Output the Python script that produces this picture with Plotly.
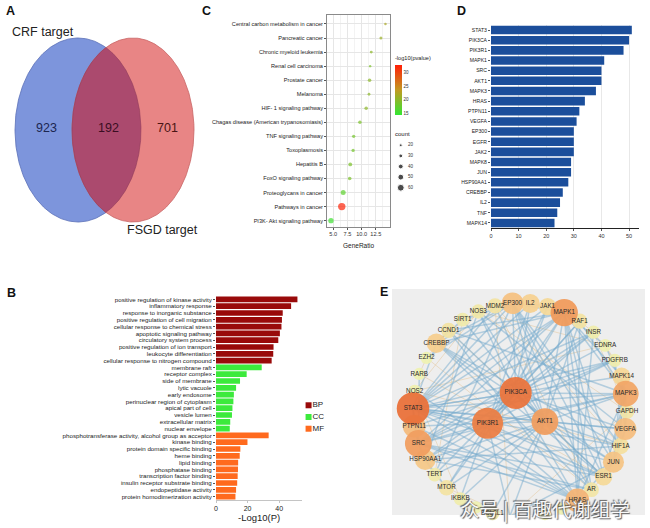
import numpy as np
import plotly.graph_objects as go

W, H = 650, 528
FONT = "Liberation Sans, Arial, sans-serif"

# ---------------- Panel A: Venn ----------------
venn_sets = ["CRF target", "FSGD target"]
venn_only_left = 923
venn_shared = 192
venn_only_right = 701

# ---------------- Panel B: GO enrichment ----------------
bp_terms = ["positive regulation of kinase activity", "inflammatory response",
            "response to inorganic substance", "positive regulation of cell migration",
            "cellular response to chemical stress", "apoptotic signaling pathway",
            "circulatory system process", "positive regulation of ion transport",
            "leukocyte differentiation", "cellular response to nitrogen compound"]
bp_values = [51.5, 47.5, 42.2, 41.7, 41.4, 40.4, 39.4, 36.4, 36.2, 35.2]
cc_terms = ["membrane raft", "receptor complex", "side of membrane", "lytic vacuole",
            "early endosome", "perinuclear region of cytoplasm", "apical part of cell",
            "vesicle lumen", "extracellular matrix", "nuclear envelope"]
cc_values = [28.9, 19.4, 15.2, 12.7, 11.3, 11.0, 10.4, 10.1, 9.0, 8.7]
mf_terms = ["phosphotransferase activity, alcohol group as acceptor", "kinase binding",
            "protein domain specific binding", "heme binding", "lipid binding",
            "phosphatase binding", "transcription factor binding",
            "insulin receptor substrate binding", "endopeptidase activity",
            "protein homodimerization activity"]
mf_values = [33.3, 19.9, 15.4, 15.0, 14.0, 13.9, 13.7, 13.4, 12.7, 12.3]
go_classes = ["BP", "CC", "MF"]

# ---------------- Panel C: KEGG dot plot ----------------
kegg_terms = ["Central carbon metabolism in cancer", "Pancreatic cancer",
              "Chronic myeloid leukemia", "Renal cell carcinoma", "Prostate cancer",
              "Melanoma", "HIF- 1 signaling pathway",
              "Chagas disease (American trypanosomiasis)", "TNF signaling pathway",
              "Toxoplasmosis", "Hepatitis B", "FoxO signaling pathway",
              "Proteoglycans in cancer", "Pathways in cancer", "PI3K- Akt signaling pathway"]
kegg_ratio = [14.2, 13.4, 11.7, 11.5, 11.4, 11.3, 10.8, 9.7, 8.6, 8.5, 8.0, 7.9, 6.75, 6.5, 4.6]
kegg_count = [18, 22, 21, 16, 27, 20, 27, 27, 25, 25, 30, 28, 42, 66, 46]
kegg_logp = [22, 21, 20, 19, 20, 20, 20, 19, 18.5, 18.5, 19, 19, 17, 32.5, 15]
count_breaks = [20, 30, 40, 50, 60]
logp_ticks = [15, 20, 25, 30]

# ---------------- Panel D: hub genes ----------------
hub_genes = ["STAT3", "PIK3CA", "PIK3R1", "MAPK1", "SRC", "AKT1", "MAPK3", "HRAS",
             "PTPN11", "VEGFA", "EP300", "EGFR", "JAK2", "MAPK8", "JUN", "HSP90AA1",
             "CREBBP", "IL2", "TNF", "MAPK14"]
hub_degree = [51, 50, 48, 41, 40, 40, 38, 34, 32, 31, 30, 30, 30, 29, 29, 28, 26, 25, 24, 23]

# ---------------- Panel E: PPI network ----------------
# "" marks ring nodes whose labels are hidden under the watermark in the source figure
ring_nodes = ["EP300", "IL2", "JAK1", "MAPK1", "RAF1", "INSR", "EDNRA", "PDGFRB",
              "MAPK14", "MAPK3", "GAPDH", "VEGFA", "HIF1A", "JUN", "ESR1", "AR", "HRAS",
              "", "", "", "BCL2", "BCL2L1", "", "IKBKB", "MTOR", "TERT",
              "HSP90AA1", "SRC", "PTPN11", "STAT3", "NOS2", "RARB", "EZH2", "CREBBP",
              "CCND1", "SIRT1", "NOS3", "MDM2"]
core_nodes = ["PIK3CA", "AKT1", "PIK3R1"]
other_degree = {"JAK1": 22, "MDM2": 18, "NOS3": 16, "SIRT1": 15, "CCND1": 18, "EZH2": 12,
                "RARB": 12, "NOS2": 13, "TERT": 15, "MTOR": 18, "IKBKB": 14, "BCL2": 16,
                "BCL2L1": 15, "AR": 17, "ESR1": 22, "HIF1A": 20, "GAPDH": 17, "RAF1": 18,
                "INSR": 14, "EDNRA": 13, "PDGFRB": 14, "": 12}
strong_edges = {
    "STAT3": "PIK3CA PIK3R1 AKT1 MAPK1 MAPK3 SRC JAK1 IL2 EP300 CREBBP VEGFA HIF1A JUN HRAS MAPK14 PTPN11 ESR1 MDM2 INSR PDGFRB",
    "PIK3CA": "PIK3R1 AKT1 MAPK1 MAPK3 HRAS SRC PTPN11 VEGFA MTOR INSR PDGFRB JAK1 IL2 EP300 ESR1 HSP90AA1 TERT NOS3 EDNRA RAF1",
    "PIK3R1": "AKT1 SRC HRAS PTPN11 INSR PDGFRB JAK1 MAPK1 MAPK3 IL2 HSP90AA1 MTOR IKBKB ESR1 RAF1 BCL2",
    "AKT1": "MAPK1 MAPK3 MTOR HSP90AA1 MDM2 NOS3 SIRT1 CCND1 TERT IKBKB VEGFA HIF1A JUN BCL2 BCL2L1 AR ESR1 EP300 RAF1",
    "MAPK1": "MAPK3 RAF1 HRAS SRC JUN ESR1 AR MAPK14 EP300 CREBBP PTPN11 EDNRA CCND1",
    "SRC": "PTPN11 HSP90AA1 PDGFRB ESR1 AR INSR MAPK3 HRAS RARB",
    "MAPK3": "RAF1 HRAS JUN MAPK14 ESR1 EDNRA VEGFA CCND1",
    "HRAS": "RAF1 PTPN11 JUN CCND1 INSR NOS2",
    "VEGFA": "HIF1A PDGFRB NOS3 MAPK14 JUN GAPDH",
    "EP300": "CREBBP JUN HIF1A SIRT1 ESR1 AR MDM2 EZH2 TERT",
    "JUN": "MAPK14 CREBBP ESR1 BCL2",
    "HSP90AA1": "TERT NOS3 HIF1A AR MTOR",
    "CREBBP": "HIF1A ESR1 AR CCND1 SIRT1",
    "IL2": "JAK1",
    "MAPK14": "HIF1A",
}
weak_edges = {
    "NOS3": "NOS2 EDNRA SIRT1 GAPDH",
    "MDM2": "SIRT1 BCL2 CCND1 AR",
    "EZH2": "RARB CCND1 AR",
    "BCL2": "BCL2L1 MTOR GAPDH",
    "ESR1": "AR RARB CCND1",
    "TERT": "SIRT1 MTOR",
    "INSR": "PDGFRB GAPDH RAF1",
    "HIF1A": "GAPDH NOS2 MDM2",
    "IKBKB": "NOS2 MTOR",
    "EDNRA": "PDGFRB NOS2",
}
watermark = "众号 | 百趣代谢组学"


# ---------------- helpers ----------------
def fx(p):
    return p / W


def fy(p):
    return 1 - p / H


def note(px, py, text, size, color="#222", xanchor="center", family=FONT, **extra):
    font = dict(size=size, color=color, family=family)
    font.update(extra)
    return dict(x=fx(px), y=fy(py), xref="paper", yref="paper", text=text, showarrow=False,
                xanchor=xanchor, yanchor="middle", font=font)


fig = go.Figure()

# ================= Panel A =================
A_CX, A_CY, A_RX, A_RY = (78.0, 133.0), 130.0, (63.0, 61.0), 92.0
venn_fill = ["#7d95dc", "#e88585"]
venn_line = ["#5b70b8", "#c86464"]
t = np.linspace(0, 2 * np.pi, 361)
for i in range(2):
    fig.add_trace(go.Scatter(x=A_CX[i] + A_RX[i] * np.cos(t), y=A_CY + A_RY * np.sin(t),
                             mode="lines", fill="toself", fillcolor=venn_fill[i],
                             line=dict(color=venn_line[i], width=0.8),
                             xaxis="x", yaxis="y", hoverinfo="skip", showlegend=False))
tl = np.linspace(-np.pi, np.pi, 1441)
xl, yl = A_CX[0] + A_RX[0] * np.cos(tl), A_CY + A_RY * np.sin(tl)
ml = ((xl - A_CX[1]) / A_RX[1]) ** 2 + ((yl - A_CY) / A_RY) ** 2 <= 1
tr = np.linspace(0, 2 * np.pi, 1441)
xr, yr = A_CX[1] + A_RX[1] * np.cos(tr), A_CY + A_RY * np.sin(tr)
mr = ((xr - A_CX[0]) / A_RX[0]) ** 2 + ((yr - A_CY) / A_RY) ** 2 <= 1
fig.add_trace(go.Scatter(x=np.concatenate([xl[ml], xr[mr]]), y=np.concatenate([yl[ml], yr[mr]]),
                         mode="lines", fill="toself", fillcolor="#ab4a6e",
                         line=dict(color="#8e3a5a", width=0.6),
                         xaxis="x", yaxis="y", hoverinfo="skip", showlegend=False))
left_edge = A_CX[0] - A_RX[0]
lens_l = A_CX[1] - A_RX[1]
lens_r = A_CX[0] + A_RX[0]
right_edge = A_CX[1] + A_RX[1]
venn_text_x = [(left_edge + lens_l) / 2 + 3, (lens_l + lens_r) / 2 + 2, (lens_r + right_edge) / 2]
venn_text = [venn_only_left, venn_shared, venn_only_right]
venn_text_col = ["#1c2650", "#3a0d22", "#4a1414"]
annotations = []
for xv, v, c in zip(venn_text_x, venn_text, venn_text_col):
    annotations.append(dict(x=xv, y=A_CY - 2, xref="x", yref="y", text=str(v), showarrow=False,
                            xanchor="center", yanchor="middle",
                            font=dict(size=12.5, color=c, family=FONT)))
annotations.append(dict(x=43, y=32, xref="x", yref="y", text=venn_sets[0], showarrow=False,
                        xanchor="center", yanchor="middle",
                        font=dict(size=12.5, color="#222", family=FONT)))
annotations.append(dict(x=162, y=230, xref="x", yref="y", text=venn_sets[1], showarrow=False,
                        xanchor="center", yanchor="middle",
                        font=dict(size=12.5, color="#222", family=FONT)))

# ================= Panel B =================
go_terms_all = bp_terms + cc_terms + mf_terms
go_colors = {"BP": "#990a0a", "CC": "#3cea3c", "MF": "#ff6a1e"}
for cls, terms, vals in zip(go_classes, [bp_terms, cc_terms, mf_terms], [bp_values, cc_values, mf_values]):
    fig.add_trace(go.Bar(y=terms, x=vals, orientation="h", marker=dict(color=go_colors[cls], line_width=0),
                         width=0.84, xaxis="x2", yaxis="y2", showlegend=False, name=cls,
                         hoverinfo="skip"))
# legend key for B
fig.add_trace(go.Scatter(x=[0, 0, 0], y=go_classes, mode="markers",
                         marker=dict(symbol="square", size=6, color=[go_colors[c] for c in go_classes]),
                         xaxis="x7", yaxis="y7", showlegend=False, hoverinfo="skip"))
fig.add_trace(go.Scatter(x=[0.55, 0.55, 0.55], y=go_classes, mode="text", text=go_classes,
                         textposition="middle right", textfont=dict(size=8, color="#222", family=FONT),
                         xaxis="x7", yaxis="y7", showlegend=False, hoverinfo="skip"))


# ================= Panel C =================
def dot_size(c):
    return 0.8 + 0.1 * c


kegg_scale = [[0, "#33e633"], [0.5, "#c29a22"], [1, "#ff1e08"]]
fig.add_trace(go.Scatter(
    x=kegg_ratio, y=kegg_terms, mode="markers",
    marker=dict(size=[dot_size(c) for c in kegg_count], color=kegg_logp, colorscale=kegg_scale,
                cmin=14.3, cmax=32.9, line_width=0,
                colorbar=dict(x=fx(395), xanchor="left", y=fy(65), yanchor="top",
                              len=50, lenmode="pixels", thickness=7, thicknessmode="pixels",
                              tickvals=logp_ticks, ticks="", outlinewidth=0, xpad=0, ypad=0,
                              tickfont=dict(size=4.5, color="#333", family=FONT))),
    xaxis="x3", yaxis="y3", showlegend=False, hoverinfo="skip"))
fig.add_trace(go.Scatter(x=[0] * len(count_breaks), y=count_breaks, mode="markers",
                         marker=dict(size=[dot_size(c) for c in count_breaks], color="black"),
                         xaxis="x6", yaxis="y6", showlegend=False, hoverinfo="skip"))
fig.add_trace(go.Scatter(x=[0.75] * len(count_breaks), y=count_breaks, mode="text",
                         text=[str(c) for c in count_breaks], textposition="middle right",
                         textfont=dict(size=4.5, color="#333", family=FONT),
                         xaxis="x6", yaxis="y6", showlegend=False, hoverinfo="skip"))

# ================= Panel D =================
fig.add_trace(go.Bar(y=hub_genes, x=hub_degree, orientation="h", width=0.84,
                     marker=dict(color="#1b4e9b", line_width=0),
                     xaxis="x4", yaxis="y4", showlegend=False, hoverinfo="skip"))

# ================= Panel E =================
deg = dict(zip(hub_genes, hub_degree))
deg.update(other_degree)
pos = {}
node_list = []
n_ring = len(ring_nodes)
start = np.deg2rad(-4.0)
for i, name in enumerate(ring_nodes):
    a = start + 2 * np.pi * i / n_ring
    node_list.append((name, np.sin(a), np.cos(a)))
    if name:
        pos[name] = (np.sin(a), np.cos(a))
core_angles = np.deg2rad([0, 110, 245])
for name, a in zip(core_nodes, core_angles):
    xy = (-0.04 + 0.29 * np.sin(a), -0.04 + 0.2 * np.cos(a))
    pos[name] = xy
    node_list.append((name, xy[0], xy[1]))


def edge_xy(edges):
    seen = set()
    xs, ys = [], []
    for s, tgts in edges.items():
        for tname in tgts.split():
            key = frozenset((s, tname))
            if key in seen:
                continue
            seen.add(key)
            xs += [pos[s][0], pos[tname][0], None]
            ys += [pos[s][1], pos[tname][1], None]
    return xs, ys


wx, wy = edge_xy(weak_edges)
fig.add_trace(go.Scatter(x=wx, y=wy, mode="lines", line=dict(color="rgba(226,190,140,0.55)", width=0.8),
                         xaxis="x5", yaxis="y5", showlegend=False, hoverinfo="skip"))
sx, sy = edge_xy(strong_edges)
fig.add_trace(go.Scatter(x=sx, y=sy, mode="lines", line=dict(color="rgba(120,172,205,0.5)", width=1.5),
                         xaxis="x5", yaxis="y5", showlegend=False, hoverinfo="skip"))
node_list.sort(key=lambda n: deg[n[0]])
node_scale = [[0, "#eef1b2"], [0.3, "#f5d595"], [0.55, "#f3b678"], [0.8, "#ef9354"], [1, "#e9713a"]]
fig.add_trace(go.Scatter(
    x=[n[1] for n in node_list], y=[n[2] for n in node_list], mode="markers+text",
    text=[n[0] for n in node_list], textposition="middle center",
    textfont=dict(size=6.3, color="#2a2a2a", family=FONT),
    marker=dict(size=[6 + 0.52 * deg[n[0]] for n in node_list], color=[deg[n[0]] for n in node_list],
                colorscale=node_scale, cmin=12, cmax=51, opacity=0.95, line_width=0),
    xaxis="x5", yaxis="y5", showlegend=False, hoverinfo="skip", cliponaxis=False))

# ================= annotations =================
for lab, px, py in [("A", 10, 11), ("B", 11, 293), ("C", 206, 11), ("D", 461, 11), ("E", 384, 292)]:
    annotations.append(note(px, py, "<b>%s</b>" % lab, 12.5, color="#111"))
annotations += [
    note(258.5, 517, "-Log10(P)", 9.5),
    note(358, 246, "GeneRatio", 6.5),
    note(393, 58, "-log10(pvalue)", 5.6, xanchor="left"),
    note(393, 134, "count", 6, xanchor="left"),
    note(545, 508, watermark, 19.5, color="rgba(255,255,255,0.95)", family="Noto Sans CJK SC",
         shadow="1px 1px 1px rgba(70,70,70,0.9), -1px -1px 1px rgba(70,70,70,0.9)"),
]

E_RANGE_X = [(392 - 520) / 107, (645 - 520) / 107]
E_RANGE_Y = [(410 - 515) / 107, (410 - 289) / 107]

tick_common = dict(ticks="outside", ticklen=2, tickcolor="#555", tickwidth=0.6, zeroline=False,
                   automargin=False)
hidden = dict(visible=False, automargin=False)

fig.update_layout(
    template="none",
    width=W, height=H, autosize=False, margin=dict(l=0, r=0, t=0, b=0, pad=0, autoexpand=False),
    paper_bgcolor="white", plot_bgcolor="white", font=dict(family=FONT, color="#222"),
    showlegend=False, barmode="overlay", annotations=annotations,
    xaxis=dict(domain=[0, fx(210)], range=[0, 210], **hidden),
    yaxis=dict(domain=[fy(245), fy(20)], range=[245, 20], **hidden),
    xaxis2=dict(domain=[fx(216), fx(301.7)], range=[0, 54.2], tickvals=[0, 20, 40], anchor="y2",
                showline=True, linecolor="#c4c4c4", linewidth=1, showgrid=False,
                ticks="outside", ticklen=2, tickcolor="#c4c4c4", zeroline=False, automargin=False,
                tickfont=dict(size=7, color="#222")),
    yaxis2=dict(domain=[fy(500), fy(296)], type="category", categoryorder="array",
                categoryarray=go_terms_all, tickmode="array", tickvals=go_terms_all,
                ticktext=go_terms_all, range=[29.5, -0.5], anchor="x2", showgrid=False,
                showline=False, tickfont=dict(size=6.2, color="#222"), **tick_common),
    xaxis3=dict(domain=[fx(327), fx(390)], range=[3.9, 15.0], tickvals=[5, 7.5, 10, 12.5],
                ticktext=["5.0", "7.5", "10.0", "12.5"], anchor="y3",
                showgrid=True, gridcolor="#e6e6e6", gridwidth=0.7,
                minor=dict(tick0=3.75, dtick=2.5, showgrid=True, gridcolor="#f3f3f3", gridwidth=0.5),
                showline=True, mirror=True, linecolor="#8a8a8a", linewidth=0.8,
                tickfont=dict(size=5.6, color="#333"), **tick_common),
    yaxis3=dict(domain=[fy(226.7), fy(15)], type="category", categoryorder="array",
                categoryarray=kegg_terms, tickmode="array", tickvals=kegg_terms, ticktext=kegg_terms,
                range=[14.43, -0.64], anchor="x3",
                showgrid=True, gridcolor="#e6e6e6", gridwidth=0.7,
                showline=True, mirror=True, linecolor="#8a8a8a", linewidth=0.8,
                tickfont=dict(size=5.6, color="#222"), **tick_common),
    xaxis4=dict(domain=[fx(491), fx(639)], range=[0, 53.6], tickvals=[0, 10, 20, 30, 40, 50],
                anchor="y4", showline=True, linecolor="#222", linewidth=0.8,
                showgrid=True, gridcolor="#e8e8e8", gridwidth=0.7,
                tickfont=dict(size=5.5, color="#333"), **tick_common),
    yaxis4=dict(domain=[fy(228), fy(25)], type="category", categoryorder="array",
                categoryarray=hub_genes, tickmode="array", tickvals=hub_genes, ticktext=hub_genes,
                range=[19.5, -0.5], anchor="x4", showgrid=False, showline=False,
                tickfont=dict(size=5.1, color="#222"), **tick_common),
    xaxis5=dict(domain=[fx(392), fx(645)], range=E_RANGE_X, anchor="y5", **hidden),
    yaxis5=dict(domain=[fy(515), fy(289)], range=E_RANGE_Y, anchor="x5", **hidden),
    xaxis6=dict(domain=[fx(395), fx(420)], range=[-0.6, 2.0], anchor="y6", **hidden),
    yaxis6=dict(domain=[fy(192), fy(141)], range=[64, 16], anchor="x6", **hidden),
    xaxis7=dict(domain=[fx(305), fx(330)], range=[-0.5, 3.0], anchor="y7", **hidden),
    yaxis7=dict(domain=[fy(434), fy(400)], type="category", categoryorder="array",
                categoryarray=go_classes, range=[2.45, -0.45], anchor="x7", **hidden),
    shapes=[dict(type="rect", xref="x5 domain", yref="y5 domain", x0=0, x1=1, y0=0, y1=1,
                 fillcolor="#eeeeee", line_width=0, layer="below")],
)

fig.write_html("out.html", config={"displayModeBar": False},
               post_script="document.body.style.margin='0';document.body.style.padding='0';"
                           "document.body.style.overflow='hidden';")
